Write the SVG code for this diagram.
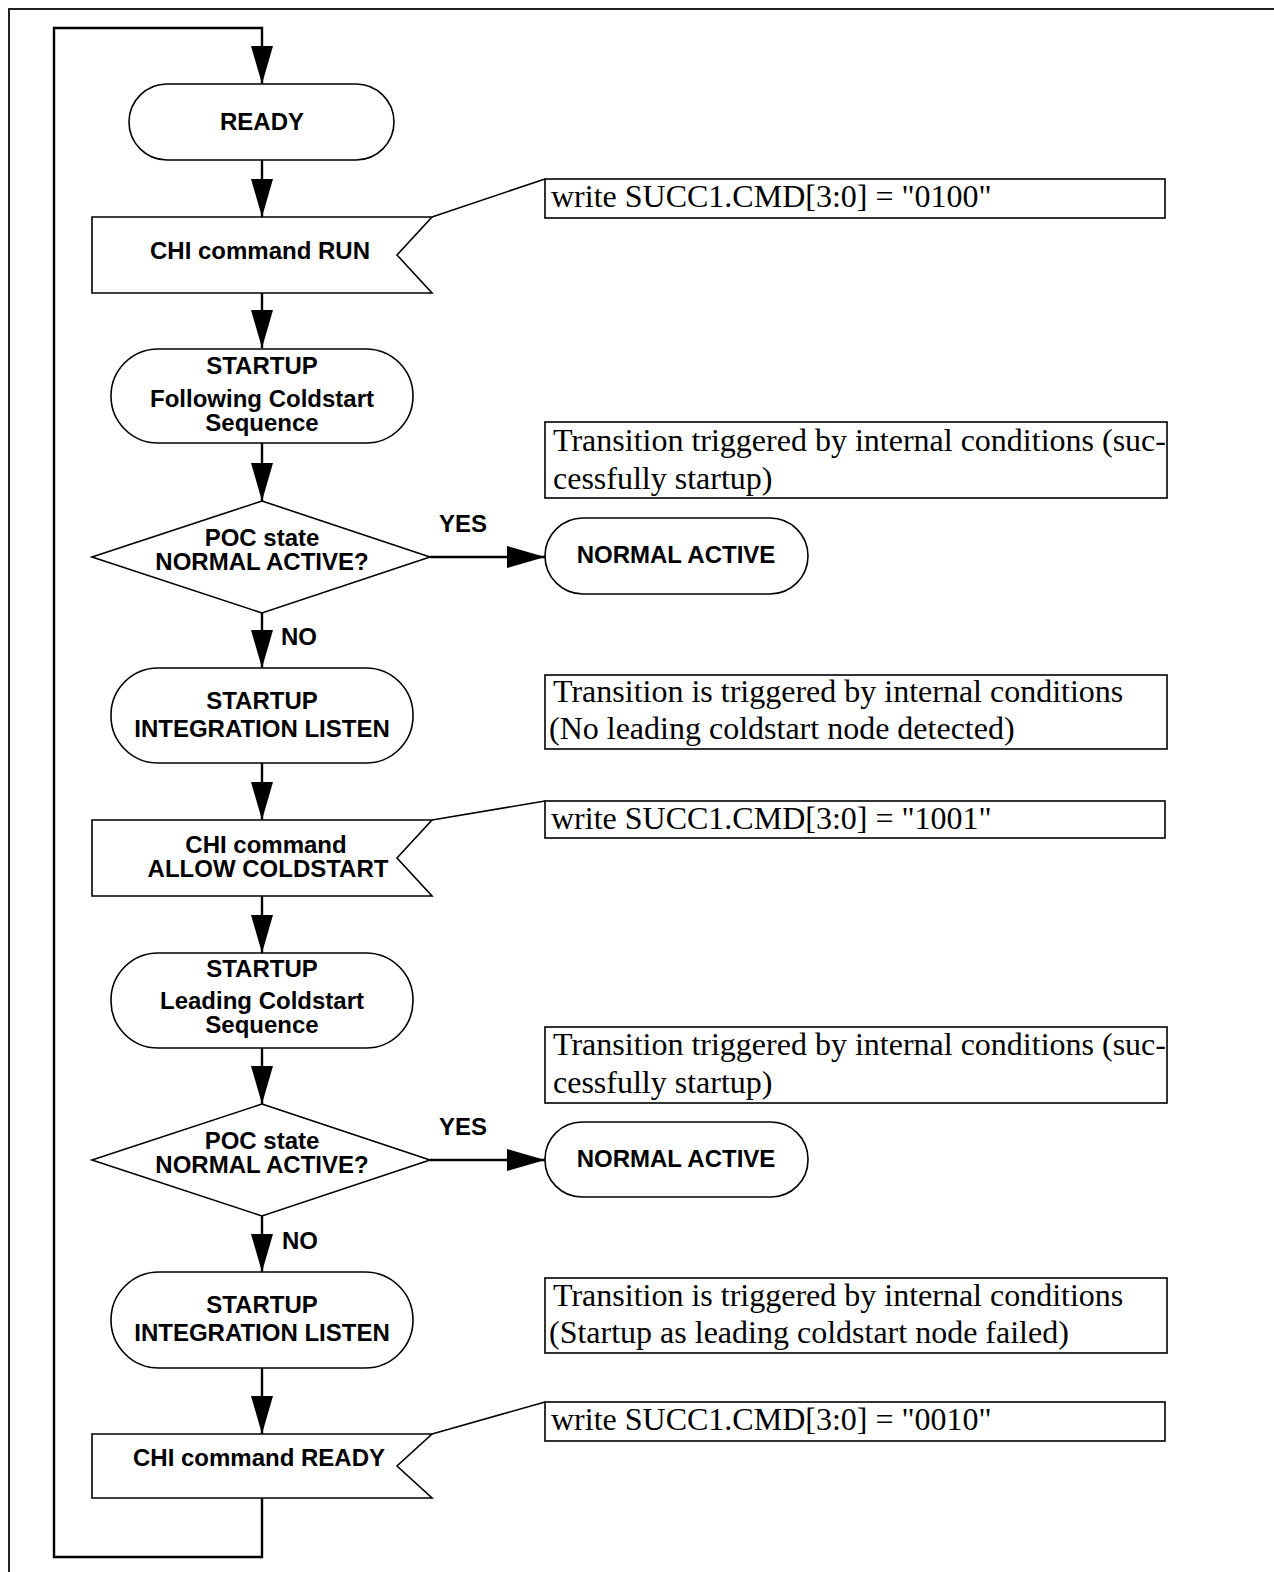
<svg xmlns="http://www.w3.org/2000/svg" width="1274" height="1572" viewBox="0 0 1274 1572">
<defs>
<marker id="ah" markerUnits="userSpaceOnUse" markerWidth="38" markerHeight="22" refX="38" refY="11" orient="auto" viewBox="0 0 38 22">
<path d="M0,0 L38,11 L0,22 z" fill="#000"/>
</marker>
<style>
.n{fill:#fff;stroke:#000;stroke-width:1.6}
.c{fill:none;stroke:#000;stroke-width:2.4}
.a{fill:none;stroke:#000;stroke-width:2.4;marker-end:url(#ah)}
.b{font-family:"Liberation Sans",Arial,sans-serif;font-weight:bold;font-size:24px;text-anchor:middle;fill:#000}
.s{font-family:"Liberation Serif","Times New Roman",serif;font-size:32px;fill:#000}
.frame{fill:none;stroke:#222;stroke-width:2}
</style>
</defs>
<rect width="1274" height="1572" fill="#fff"/>
<path class="frame" d="M9,1572 V9 H1274"/>

<g id="connectors">
<path class="a" d="M262,1498 V1557 H54 V28 H262 V84"/>
<path class="a" d="M262,160 V217"/>
<path class="a" d="M262,293 V348"/>
<path class="a" d="M262,443 V501"/>
<path class="a" d="M430,557 H545"/>
<path class="a" d="M262,613 V668"/>
<path class="a" d="M262,763 V820"/>
<path class="a" d="M262,896 V953"/>
<path class="a" d="M262,1048 V1104"/>
<path class="a" d="M430,1160 H545"/>
<path class="a" d="M262,1216 V1272"/>
<path class="a" d="M262,1368 V1434"/>
<path class="c" d="M432,217 L545,179" style="stroke-width:1.6"/>
<path class="c" d="M432,820 L545,801" style="stroke-width:1.6"/>
<path class="c" d="M432,1434 L545,1402" style="stroke-width:1.6"/>
<text class="b" x="463" y="532">YES</text>
<text class="b" x="299" y="645">NO</text>
<text class="b" x="463" y="1135">YES</text>
<text class="b" x="300" y="1249">NO</text>
</g>

<g id="ready">
<rect class="n" x="129" y="84" width="265" height="76" rx="38" ry="38"/>
<text class="b" x="262" y="130">READY</text>
</g>

<g id="chi-run">
<path class="n" d="M92,217 H432 L397,255 L432,293 H92 Z"/>
<text class="b" x="260" y="259">CHI command RUN</text>
</g>

<g id="note-run">
<rect class="n" x="545" y="179" width="620" height="39"/>
<text class="s" x="551" y="207">write SUCC1.CMD[3:0] = "0100"</text>
</g>

<g id="startup-following">
<rect class="n" x="111" y="349" width="302" height="94" rx="47" ry="47"/>
<text class="b" x="262" y="374">STARTUP</text>
<text class="b" x="262" y="407">Following Coldstart</text>
<text class="b" x="262" y="431">Sequence</text>
</g>

<g id="note-success1">
<rect class="n" x="545" y="422" width="622" height="76"/>
<text class="s" x="553" y="451">Transition triggered by internal conditions (suc-</text>
<text class="s" x="553" y="489">cessfully startup)</text>
</g>

<g id="decision1">
<path class="n" d="M262,501 L430,557 L262,613 L92,557 Z"/>
<text class="b" x="262" y="546">POC state</text>
<text class="b" x="262" y="570">NORMAL ACTIVE?</text>
</g>

<g id="normal-active1">
<rect class="n" x="545" y="518" width="263" height="76" rx="38" ry="38"/>
<text class="b" x="676" y="563">NORMAL ACTIVE</text>
</g>

<g id="startup-integration1">
<rect class="n" x="111" y="668" width="302" height="95" rx="47" ry="47"/>
<text class="b" x="262" y="709">STARTUP</text>
<text class="b" x="262" y="737">INTEGRATION LISTEN</text>
</g>

<g id="note-noleading">
<rect class="n" x="545" y="675" width="622" height="74"/>
<text class="s" x="553" y="702">Transition is triggered by internal conditions</text>
<text class="s" x="549" y="739">(No leading coldstart node detected)</text>
</g>

<g id="chi-allow">
<path class="n" d="M92,820 H432 L397,858 L432,896 H92 Z"/>
<text class="b" x="266" y="853">CHI command</text>
<text class="b" x="268" y="877">ALLOW COLDSTART</text>
</g>

<g id="note-allow">
<rect class="n" x="545" y="801" width="620" height="37"/>
<text class="s" x="551" y="829">write SUCC1.CMD[3:0] = "1001"</text>
</g>

<g id="startup-leading">
<rect class="n" x="111" y="953" width="302" height="95" rx="47" ry="47"/>
<text class="b" x="262" y="977">STARTUP</text>
<text class="b" x="262" y="1009">Leading Coldstart</text>
<text class="b" x="262" y="1033">Sequence</text>
</g>

<g id="note-success2">
<rect class="n" x="545" y="1027" width="622" height="76"/>
<text class="s" x="553" y="1055">Transition triggered by internal conditions (suc-</text>
<text class="s" x="553" y="1093">cessfully startup)</text>
</g>

<g id="decision2">
<path class="n" d="M262,1104 L430,1160 L262,1216 L92,1160 Z"/>
<text class="b" x="262" y="1149">POC state</text>
<text class="b" x="262" y="1173">NORMAL ACTIVE?</text>
</g>

<g id="normal-active2">
<rect class="n" x="545" y="1122" width="263" height="75" rx="37" ry="37"/>
<text class="b" x="676" y="1167">NORMAL ACTIVE</text>
</g>

<g id="startup-integration2">
<rect class="n" x="111" y="1272" width="302" height="96" rx="48" ry="48"/>
<text class="b" x="262" y="1313">STARTUP</text>
<text class="b" x="262" y="1341">INTEGRATION LISTEN</text>
</g>

<g id="note-failed">
<rect class="n" x="545" y="1278" width="622" height="75"/>
<text class="s" x="553" y="1306">Transition is triggered by internal conditions</text>
<text class="s" x="549" y="1343">(Startup as leading coldstart node failed)</text>
</g>

<g id="chi-ready">
<path class="n" d="M92,1434 H432 L397,1466 L432,1498 H92 Z"/>
<text class="b" x="259" y="1466">CHI command READY</text>
</g>

<g id="note-ready">
<rect class="n" x="545" y="1402" width="620" height="39"/>
<text class="s" x="551" y="1430">write SUCC1.CMD[3:0] = "0010"</text>
</g>
</svg>
